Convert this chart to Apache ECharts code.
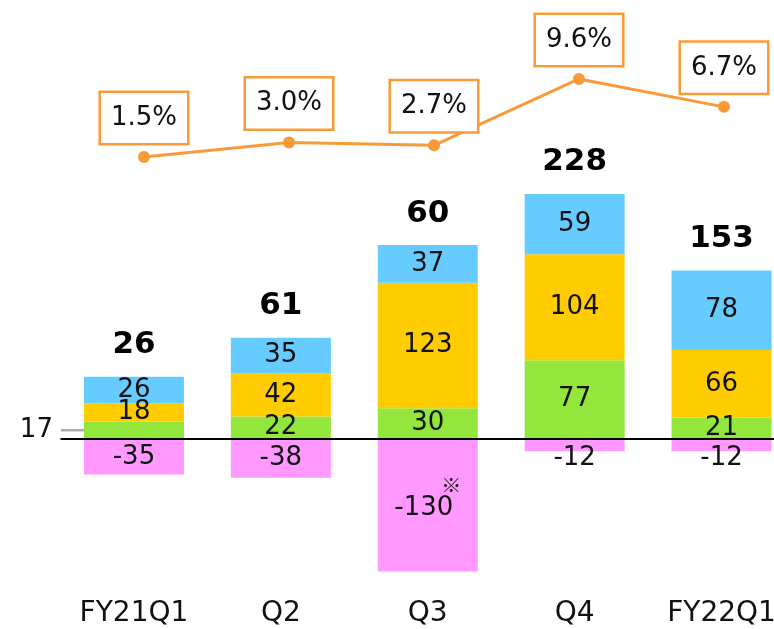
<!DOCTYPE html>
<html>
<head>
<meta charset="utf-8">
<script src="https://cdn.jsdelivr.net/npm/echarts@6/dist/echarts.min.js"></script>
<style>
html, body { margin: 0; padding: 0; background: #fff; }
#chart { width: 774px; height: 629px; }
</style>
</head>
<body>
<div id="chart"></div>
<script>
var categories = ['FY21Q1', 'Q2', 'Q3', 'Q4', 'FY22Q1'];
var green = [17, 22, 30, 77, 21];
var yellow = [18, 42, 123, 104, 66];
var blue = [26, 35, 37, 59, 78];
var pink = [-35, -38, -130, -12, -12];
var ratio = [1.5, 3.0, 2.7, 9.6, 6.7];

var orange = '#F99A38';
var font = 'DejaVu Sans';

// positive stack height (where the total sits) and net total (its text)
var posTop = [];
var net = [];
categories.forEach(function(c, i){
    posTop.push(green[i] + yellow[i] + blue[i]);
    net.push(green[i] + yellow[i] + blue[i] + pink[i]);
});

var barLabel = {
    show: true,
    position: 'inside',
    fontSize: 26,
    color: '#111',
    fontFamily: font
};

// first green value is written off to the left with a small grey leader
var greenData = green.map(function(v, i){
    if (i === 0) {
        return {
            value: v,
            label: {
                show: true,
                position: 'left',
                distance: 0,
                formatter: '{t|' + v + '}{g|}{l|}',
                rich: {
                    t: {fontSize: 26, color: '#111', fontFamily: font},
                    g: {width: 8, height: 2},
                    l: {width: 23, height: 2.5, backgroundColor: '#aaa', verticalAlign: 'middle'}
                }
            }
        };
    }
    return v;
});

var pinkData = pink.map(function(v, i){
    if (v === -130) {
        return {
            value: v,
            label: {
                show: true,
                position: 'inside',
                offset: [0, -6],
                formatter: '{s|※}\n{v|' + v + '}{p|}',
                rich: {
                    s: {fontSize: 20, lineHeight: 18, color: '#111', fontFamily: 'Noto Sans CJK JP', align: 'right'},
                    v: {fontSize: 26, lineHeight: 28, color: '#111', fontFamily: font},
                    p: {width: 8, height: 2}
                }
            }
        };
    }
    if (v > -20) {
        return {value: v, label: {show: true, position: 'inside', offset: [0, 13]}};
    }
    return v;
});

var myChart = echarts.init(document.getElementById('chart'));
var option = {
    animation: false,
    textStyle: {fontFamily: font},
    grid: [
        {left: 60.5, top: 0, width: 734.5, height: 592, outerBoundsMode: 'none'},
        {left: 71.5, top: 0, width: 725, height: 592, outerBoundsMode: 'none'}
    ],
    xAxis: [
        {
            type: 'category',
            gridIndex: 0,
            data: categories,
            axisLine: {show: false, onZero: false},
            axisTick: {show: false},
            axisLabel: {fontSize: 28, color: '#111', margin: 8, fontFamily: font}
        },
        {
            type: 'category',
            gridIndex: 1,
            data: categories,
            show: false
        }
    ],
    yAxis: [
        {type: 'value', gridIndex: 0, min: -150, max: 430, show: false, splitLine: {show: false}},
        {type: 'value', gridIndex: 1, min: -43.7, max: 17.8, show: false, splitLine: {show: false}}
    ],
    series: [
        {
            name: 'green',
            type: 'bar',
            stack: 'a',
            barWidth: 100,
            data: greenData,
            itemStyle: {color: '#92E63C'},
            label: barLabel,
            markLine: {
                silent: true,
                symbol: 'none',
                label: {show: false},
                lineStyle: {color: '#000', width: 2, type: 'solid'},
                data: [{yAxis: 0}]
            }
        },
        {
            name: 'yellow',
            type: 'bar',
            stack: 'a',
            barWidth: 100,
            data: yellow,
            itemStyle: {color: '#FFCC00'},
            label: barLabel
        },
        {
            name: 'blue',
            type: 'bar',
            stack: 'a',
            barWidth: 100,
            data: blue,
            itemStyle: {color: '#66CCFF'},
            label: barLabel
        },
        {
            name: 'pink',
            type: 'bar',
            stack: 'a',
            barWidth: 100,
            data: pinkData,
            itemStyle: {color: '#FF99FF'},
            label: barLabel
        },
        {
            name: 'total',
            type: 'scatter',
            symbolSize: 0,
            data: posTop,
            silent: true,
            itemStyle: {opacity: 1},
            label: {
                show: true,
                position: 'top',
                distance: 16,
                fontSize: 31,
                fontWeight: 'bold',
                color: '#000',
                fontFamily: font,
                formatter: function(p){
                    return net[p.dataIndex];
                }
            }
        },
        {
            name: 'ratio',
            type: 'line',
            xAxisIndex: 1,
            yAxisIndex: 1,
            data: ratio,
            symbol: 'circle',
            symbolSize: 12,
            itemStyle: {color: orange},
            lineStyle: {color: orange, width: 3},
            label: {
                show: true,
                position: 'top',
                distance: 8,
                fontSize: 26,
                lineHeight: 26,
                color: '#111',
                fontFamily: font,
                backgroundColor: '#fff',
                borderColor: orange,
                borderWidth: 2.5,
                padding: [12, 10],
                formatter: function(p){
                    return ratio[p.dataIndex].toFixed(1) + '%';
                }
            }
        }
    ]
};

myChart.setOption(option);
</script>
</body>
</html>
